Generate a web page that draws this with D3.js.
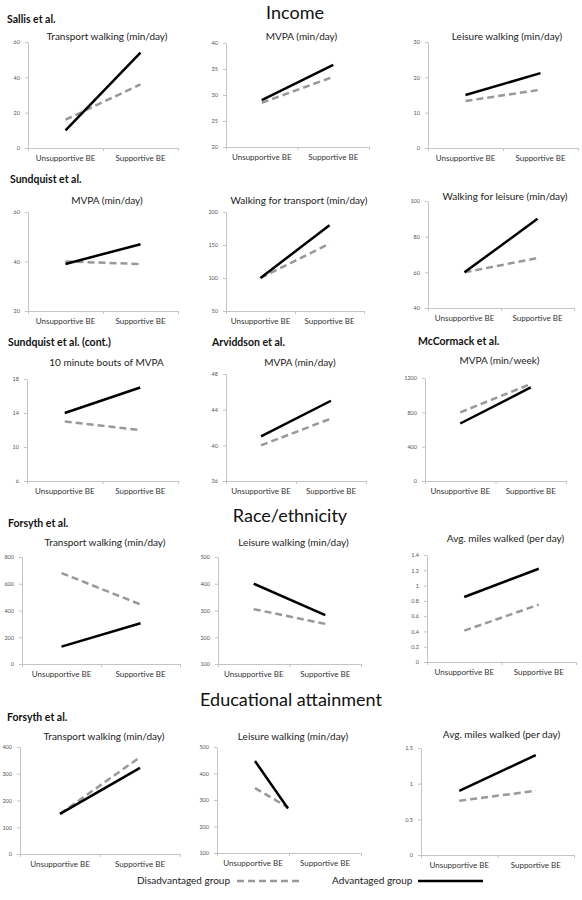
<!DOCTYPE html>
<html>
<head>
<meta charset="utf-8">
<script src="https://cdn.jsdelivr.net/npm/d3@7"></script>
<style>
  html, body { margin: 0; padding: 0; background: #fff; }
  svg { display: block; font-family: Lato, "Open Sans", sans-serif; }
</style>
</head>
<body>
<svg id="chart" width="582" height="900"></svg>
<script>
// ---------------- DATA ----------------
const categories = ["Unsupportive BE", "Supportive BE"];
const sectionHeadings = ["Income", "Race/ethnicity", "Educational attainment"];
const studyLabels = ["Sallis et al.", "Sundquist et al.", "Sundquist et al. (cont.)", "Arviddson et al.", "McCormack et al.", "Forsyth et al.", "Forsyth et al."];
const panelTitles = [
  "Transport walking (min/day)", "MVPA (min/day)", "Leisure walking (min/day)",
  "MVPA (min/day)", "Walking for transport (min/day)", "Walking for leisure (min/day)",
  "10 minute bouts of MVPA", "MVPA (min/day)", "MVPA (min/week)",
  "Transport walking (min/day)", "Leisure walking (min/day)", "Avg. miles walked (per day)",
  "Transport walking (min/day)", "Leisure walking (min/day)", "Avg. miles walked (per day)"
];
const disadvantaged = [
  [16, 36], [28.5, 33.5], [13.3, 16.5],
  [40, 39], [100, 152], [60, 68],
  [13, 12], [40, 43], [800, 1130],
  [680, 445], [305, 250], [0.41, 0.75],
  [150, 362], [345, 272], [0.76, 0.9]
];
const advantaged = [
  [10, 54], [29, 35.8], [15, 21.2],
  [39, 47], [100, 180], [60, 90],
  [14, 17], [41, 45], [670, 1090],
  [130, 305], [400, 283], [0.85, 1.22],
  [150, 322], [447, 268], [0.9, 1.4]
];
const yDomains = [
  [0, 60], [20, 40], [0, 30],
  [20, 60], [50, 200], [40, 100],
  [6, 18], [36, 48], [0, 1200],
  [0, 800], [100, 500], [0, 1.4],
  [0, 400], [100, 500], [0, 1.5]
];
const yTicks = [
  [0, 20, 40, 60], [20, 25, 30, 35, 40], [0, 10, 20, 30],
  [20, 40, 60], [50, 100, 150, 200], [40, 60, 80, 100],
  [6, 10, 14, 18], [36, 40, 44, 48], [0, 400, 800, 1200],
  [0, 200, 400, 600, 800], [100, 200, 300, 400, 500], [0, 0.2, 0.4, 0.6, 0.8, 1, 1.2, 1.4],
  [0, 100, 200, 300, 400], [100, 200, 300, 400, 500], [0, 0.5, 1, 1.5]
];
const legendLabels = ["Disadvantaged group", "Advantaged group"];

// ---------------- LAYOUT ----------------
// panel boxes: x0 (y-axis), x1 (x-axis end), y0 (top), y1 (baseline), title y
const boxes = [
  {x0: 28, x1: 178, y0: 42, y1: 148, ty: 40},
  {x0: 226, x1: 369, y0: 43, y1: 147, ty: 40},
  {x0: 428, x1: 578, y0: 42, y1: 148, ty: 40},
  {x0: 28, x1: 178, y0: 212, y1: 311, ty: 204},
  {x0: 226, x1: 364, y0: 212, y1: 311, ty: 204},
  {x0: 428, x1: 574, y0: 201, y1: 308, ty: 200},
  {x0: 27, x1: 178, y0: 379, y1: 481, ty: 366},
  {x0: 226, x1: 366, y0: 374, y1: 481, ty: 366},
  {x0: 425, x1: 566, y0: 378, y1: 481, ty: 364},
  {x0: 22, x1: 180, y0: 557, y1: 664, ty: 546},
  {x0: 218, x1: 361, y0: 557, y1: 664, ty: 546},
  {x0: 427, x1: 576, y0: 555, y1: 662, ty: 542},
  {x0: 20, x1: 180, y0: 747, y1: 854, ty: 740},
  {x0: 217, x1: 361, y0: 747, y1: 853, ty: 740},
  {x0: 421, x1: 574, y0: 748, y1: 855, ty: 738}
];
// x-range override for plotted lines (panel 14 lines are compressed in the original)
const lineRangeOverride = {13: [238.5, 304.5]};
const headingPos = [{x: 295, y: 19}, {x: 290, y: 522}, {x: 291, y: 706}];
const studyPos = [
  {x: 7, y: 23}, {x: 10, y: 183}, {x: 8, y: 346}, {x: 212, y: 346},
  {x: 418, y: 345}, {x: 8, y: 527}, {x: 7, y: 721}
];

const svg = d3.select("#chart");

// headings
svg.selectAll("text.heading").data(sectionHeadings).join("text")
  .attr("class", "heading")
  .attr("x", (d, i) => headingPos[i].x)
  .attr("y", (d, i) => headingPos[i].y)
  .attr("text-anchor", "middle")
  .attr("font-size", 18)
  .attr("fill", "#111")
  .text(d => d);

svg.selectAll("text.study").data(studyLabels).join("text")
  .attr("class", "study")
  .attr("x", (d, i) => studyPos[i].x)
  .attr("y", (d, i) => studyPos[i].y)
  .attr("font-size", 10.5)
  .attr("font-weight", "bold")
  .attr("fill", "#111")
  .text(d => d);

const axisColor = "#c4c4c4";

panelTitles.forEach((title, i) => {
  const b = boxes[i];
  const g = svg.append("g");
  const y = d3.scaleLinear().domain(yDomains[i]).range([b.y1, b.y0]);
  const xBand = d3.scalePoint().domain(categories).range([b.x0, b.x1]).padding(0.5);
  const lr = lineRangeOverride[i] || [b.x0, b.x1];
  const xLine = d3.scalePoint().domain(categories).range(lr).padding(0.5);
  const xTick = d3.scaleLinear().domain([0, 2]).range([b.x0, b.x1]);

  // y axis
  const ya = g.append("g").attr("transform", `translate(${b.x0},0)`)
    .call(d3.axisLeft(y).tickValues(yTicks[i]).tickSize(3).tickSizeOuter(0).tickPadding(5)
      .tickFormat(d => d3.format("~g")(d)));
  ya.select(".domain").attr("stroke", axisColor);
  ya.selectAll(".tick line").attr("stroke", axisColor);
  ya.selectAll(".tick text").attr("font-size", 5.5).attr("fill", "#555").attr("font-family", "Lato, sans-serif");

  // x axis
  const xa = g.append("g").attr("transform", `translate(0,${b.y1})`)
    .call(d3.axisBottom(xTick).tickValues([0, 1, 2]).tickSize(3).tickSizeOuter(0).tickFormat(""));
  xa.select(".domain").attr("stroke", axisColor);
  xa.selectAll(".tick line").attr("stroke", axisColor);

  // category labels
  g.selectAll("text.cat").data(categories).join("text")
    .attr("class", "cat")
    .attr("x", d => xBand(d))
    .attr("y", b.y1 + 13)
    .attr("text-anchor", "middle")
    .attr("font-size", 8)
    .attr("fill", "#333")
    .text(d => d);

  // title
  g.append("text")
    .attr("x", (b.x0 + b.x1) / 2 + 4)
    .attr("y", b.ty)
    .attr("text-anchor", "middle")
    .attr("font-size", 10)
    .attr("fill", "#222")
    .text(title);

  const line = d3.line().x((d, j) => xLine(categories[j])).y(d => y(d));
  g.append("path").datum(disadvantaged[i])
    .attr("d", line).attr("fill", "none")
    .attr("stroke", "#999").attr("stroke-width", 2.5).attr("stroke-dasharray", "7,4");
  g.append("path").datum(advantaged[i])
    .attr("d", line).attr("fill", "none")
    .attr("stroke", "#000").attr("stroke-width", 2.5);
});

// legend
const lg = svg.append("g");
lg.append("text").attr("x", 230).attr("y", 884).attr("text-anchor", "end")
  .attr("font-size", 10).attr("fill", "#222").text(legendLabels[0]);
lg.append("line").attr("x1", 237).attr("x2", 299).attr("y1", 881).attr("y2", 881)
  .attr("stroke", "#999").attr("stroke-width", 2.5).attr("stroke-dasharray", "7,4");
lg.append("text").attr("x", 332).attr("y", 884)
  .attr("font-size", 10).attr("fill", "#222").text(legendLabels[1]);
lg.append("line").attr("x1", 418).attr("x2", 483).attr("y1", 881).attr("y2", 881)
  .attr("stroke", "#000").attr("stroke-width", 2.5);
</script>
</body>
</html>
